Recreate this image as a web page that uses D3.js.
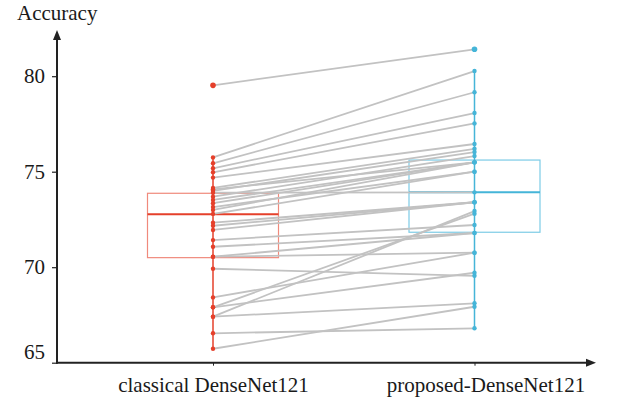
<!DOCTYPE html>
<html>
<head>
<meta charset="utf-8">
<script src="https://cdn.jsdelivr.net/npm/d3@7"></script>
<style>
  body { margin: 0; background: #fff; }
  svg text { font-family: "Liberation Serif", "Times New Roman", serif; }
</style>
</head>
<body>
<div id="chart"></div>
<script>
// paired accuracies, same index = same run
const categories = ['classical DenseNet121', 'proposed-DenseNet121'];
const classical = [79.52, 75.75, 75.44, 75.18, 74.97, 74.69, 74.15, 74.08, 74.0, 73.9,
  73.69, 73.52, 73.35, 73.15, 73.0, 72.79, 72.33, 72.17, 71.95, 71.42,
  71.07, 70.55, 70.55, 69.92, 68.42, 67.9, 67.9, 67.41, 67.41, 66.54, 65.73];
const proposed = [81.41, 80.27, 79.16, 78.07, 77.53, 76.45, 76.2, 75.49, 76.03, 73.92,
  75.82, 75.49, 75.49, 75.0, 75.49, 75.0, 73.4, 73.4, 73.4, 72.21,
  71.79, 71.79, 70.76, 69.55, 70.76, 72.8, 69.71, 72.94, 68.11, 66.8, 67.93];
// box stats: [whiskerLow, q1, median, q3, whiskerHigh]
const boxClassical = [65.73, 70.5, 72.77, 73.87, 75.77];
const boxProposed = [66.8, 71.83, 73.92, 75.61, 80.27];
const yTicks = [65, 70, 75, 80];

const width = 617, height = 404;
const svg = d3.select('#chart').append('svg')
  .attr('width', width).attr('height', height);

const x = d3.scalePoint().domain(categories).range([213, 474.5]);
const y = d3.scaleLinear().domain([65, 80]).range([362.7, 76.2]);
const x0 = 57, yBase = y(65);

const series = [
  { name: categories[0], values: classical, box: boxClassical, main: '#e5402b', light: '#f08a7c' },
  { name: categories[1], values: proposed, box: boxProposed, main: '#45b5d8', light: '#7ccbe6' }
];
const boxW = 131;

// boxes first, the lines go over them
series.forEach(s => {
  const cx = x(s.name);
  const [lo, q1, med, q3, hi] = s.box;
  svg.append('rect')
    .attr('x', cx - boxW / 2).attr('y', y(q3))
    .attr('width', boxW).attr('height', y(q1) - y(q3))
    .attr('fill', 'none').attr('stroke', s.light).attr('stroke-width', 1.2);
  svg.append('line')
    .attr('x1', cx - boxW / 2).attr('x2', cx + boxW / 2)
    .attr('y1', y(med)).attr('y2', y(med))
    .attr('stroke', s.main).attr('stroke-width', 2);
});

// pair lines
svg.append('g').selectAll('line')
  .data(d3.range(classical.length))
  .join('line')
  .attr('x1', x(categories[0])).attr('y1', i => y(classical[i]))
  .attr('x2', x(categories[1])).attr('y2', i => y(proposed[i]))
  .attr('stroke', '#c2c2c2').attr('stroke-width', 1.8);

// whiskers + points
series.forEach(s => {
  const cx = x(s.name);
  svg.append('line')
    .attr('x1', cx).attr('x2', cx)
    .attr('y1', y(s.box[0])).attr('y2', y(s.box[4]))
    .attr('stroke', s.main).attr('stroke-width', 1.5);
  svg.append('g').selectAll('circle')
    .data(s.values)
    .join('circle')
    .attr('cx', cx).attr('cy', d => y(d))
    .attr('r', d => d > s.box[4] ? 2.8 : 2.2)
    .attr('fill', s.main);
});

// y axis
const yAxis = svg.append('g')
  .attr('transform', `translate(${x0},0)`)
  .call(d3.axisLeft(y).tickValues(yTicks).tickSize(5).tickPadding(7));
yAxis.select('.domain').remove();
yAxis.selectAll('line').attr('stroke', '#222').attr('stroke-width', 1.2);
yAxis.selectAll('text').attr('font-size', 21).attr('fill', '#1a1a1a')
  .attr('font-family', '"Liberation Serif", serif');
yAxis.selectAll('.tick').filter(d => d === 65).select('text').attr('dy', '-0.2em');

// x axis
const xAxis = svg.append('g')
  .attr('transform', `translate(0,${yBase})`)
  .call(d3.axisBottom(x).tickSize(3).tickPadding(11));
xAxis.select('.domain').remove();
xAxis.selectAll('line').attr('stroke', '#222');
xAxis.selectAll('text').attr('font-size', 21).attr('fill', '#1a1a1a')
  .attr('font-family', '"Liberation Serif", serif');
xAxis.selectAll('.tick').filter(d => d === categories[1]).select('text').attr('dx', 11);

// axis lines with arrow heads
svg.append('line').attr('x1', x0).attr('x2', x0).attr('y1', yBase + 1).attr('y2', 38)
  .attr('stroke', '#222').attr('stroke-width', 2);
svg.append('path').attr('d', `M${x0},30 L${x0 - 4},40 L${x0 + 4},40 Z`).attr('fill', '#222');
svg.append('line').attr('x1', x0 - 1).attr('x2', 588).attr('y1', yBase).attr('y2', yBase)
  .attr('stroke', '#222').attr('stroke-width', 2);
svg.append('path').attr('d', `M596,${yBase} L586,${yBase - 4} L586,${yBase + 4} Z`).attr('fill', '#222');

svg.append('text').attr('x', 17).attr('y', 20)
  .attr('font-size', 21).attr('fill', '#1a1a1a').text('Accuracy');
</script>
</body>
</html>
